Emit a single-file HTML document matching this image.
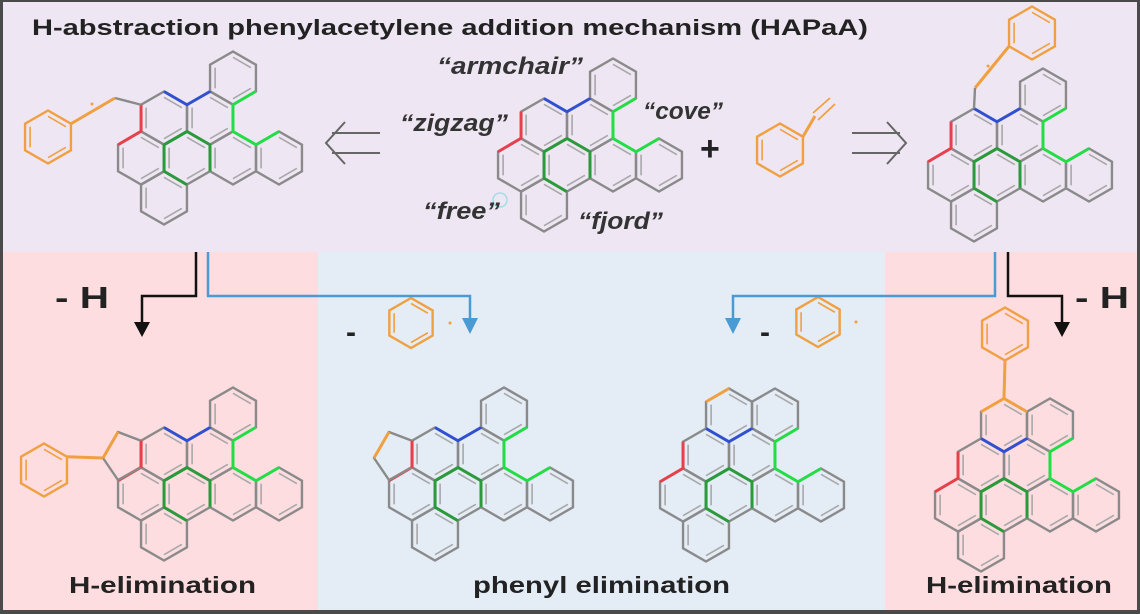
<!DOCTYPE html>
<html><head><meta charset="utf-8"><style>
html,body{margin:0;padding:0;background:#fff}
svg{display:block}
text{font-family:"Liberation Sans",sans-serif;fill:#222}
.q{font-style:italic;font-weight:bold;font-size:24px;fill:#333}
.b{font-weight:bold}
</style></head><body>
<svg id="s" width="1140" height="614" viewBox="0 0 1140 614" xmlns="http://www.w3.org/2000/svg">
<rect x="0" y="0" width="1140" height="614" fill="#4a4a4a"/>
<rect x="3" y="2" width="1134" height="250" fill="#efe6f3"/>
<rect x="3" y="252" width="315" height="358" fill="#fddde0"/>
<rect x="318" y="252" width="567" height="358" fill="#e4ecf6"/>
<rect x="885" y="252" width="252" height="358" fill="#fddde0"/>
<g id="mol"></g>
<text x="32" y="35" class="b" font-size="22" textLength="836" lengthAdjust="spacingAndGlyphs">H-abstraction phenylacetylene addition mechanism (HAPaA)</text>
<text x="437" y="74" class="q" textLength="146" lengthAdjust="spacingAndGlyphs">“armchair”</text>
<text x="400" y="131" class="q" textLength="108" lengthAdjust="spacingAndGlyphs">“zigzag”</text>
<text x="643" y="119" class="q" textLength="80" lengthAdjust="spacingAndGlyphs">“cove”</text>
<text x="423" y="219" class="q" textLength="77" lengthAdjust="spacingAndGlyphs">“free”</text>
<text x="578" y="229" class="q" textLength="85" lengthAdjust="spacingAndGlyphs">“fjord”</text>
<text x="700" y="160" class="b" font-size="34">+</text>
<g stroke="#666" stroke-width="2" fill="none">
<path d="M380 133 L332 133 M380 153 L332 153 M345 122 L326 143 L345 164"/>
<path d="M852 133 L900 133 M852 153 L900 153 M887 122 L906 143 L887 164"/>
</g>
<g fill="none" stroke-width="2.5">
<path d="M196 252 V296 H142 V325" stroke="#111"/>
<path d="M208 252 V296 H470 V322" stroke="#4a9ad4"/>
<path d="M995 252 V296 H733 V322" stroke="#4a9ad4"/>
<path d="M1008 252 V296 H1062 V325" stroke="#111"/>
</g>
<path d="M134 322 L150 322 L142 337Z" fill="#111"/>
<path d="M462 318 L478 318 L470 334Z" fill="#4a9ad4"/>
<path d="M725 318 L741 318 L733 334Z" fill="#4a9ad4"/>
<path d="M1054 322 L1070 322 L1062 337Z" fill="#111"/>
<text x="55" y="308" class="b" font-size="31" textLength="54" lengthAdjust="spacingAndGlyphs">- H</text>
<text x="1075" y="308" class="b" font-size="31" textLength="54" lengthAdjust="spacingAndGlyphs">- H</text>
<text x="346" y="342" class="b" font-size="30">-</text>
<text x="760" y="342" class="b" font-size="30">-</text>
<circle cx="450" cy="323" r="1.5" fill="#f0a040"/>
<circle cx="856" cy="322" r="1.5" fill="#f0a040"/>
<text x="69" y="593" class="b" font-size="23" textLength="187" lengthAdjust="spacingAndGlyphs">H-elimination</text>
<text x="473" y="593" class="b" font-size="23" textLength="257" lengthAdjust="spacingAndGlyphs">phenyl elimination</text>
<text x="926" y="593" class="b" font-size="23" textLength="186" lengthAdjust="spacingAndGlyphs">H-elimination</text>
</svg>
<script>
var NS="http://www.w3.org/2000/svg",g=document.getElementById("mol"),R=26.5;
function el(t,a){var e=document.createElementNS(NS,t);for(var k in a)e.setAttribute(k,a[k]);g.appendChild(e);return e;}
function V(cx,cy,k,r){r=r||R;var a=(-90+60*k)*Math.PI/180;return [cx+r*Math.cos(a),cy+r*Math.sin(a)];}
function hex(cx,cy,col,r){r=r||R;var p=[];for(var k=0;k<6;k++)p.push(V(cx,cy,k,r).join(","));
el("polygon",{points:p.join(" "),fill:"none",stroke:col||"#8a8a8a","stroke-width":2.4});
for(var k=0;k<6;k+=2){var a=V(cx,cy,k,r*0.78),b=V(cx,cy,k+1,r*0.78);
el("line",{x1:a[0],y1:a[1],x2:b[0],y2:b[1],stroke:col||"#a8a8a8","stroke-width":1.6});}}
function pl(pts,col,w){el("polyline",{points:pts.map(function(p){return p.join(",")}).join(" "),fill:"none",stroke:col,"stroke-width":w||3,"stroke-linejoin":"round"});}
var core=[[0,0],[-69,40],[-23,40],[-92,80],[-46,80],[0,80],[46,80],[-69,120]];
function mol(tx,ty,extra){
 var rc={};var names="TABCDEFG";
 core.forEach(function(c,i){rc[names[i]]=[tx+c[0],ty+c[1]];hex(tx+c[0],ty+c[1]);});
 if(extra)hex(tx-46,ty);
 function v(n,k){return V(rc[n][0],rc[n][1],k);}
 pl([v("A",0),v("A",1),v("B",0),v("T",4)],"#3050d0");
 pl([v("A",5),v("A",4),v("C",5)],"#e8404a");
 pl([v("D",5),v("D",0),v("D",1),v("E",4)],"#2a9a3a");
 pl([v("D",0),v("D",5),v("D",4),v("G",1)],"#2a9a3a");
 pl([v("T",2),v("B",1),v("E",0),v("F",5),v("F",0)],"#22dd44");
 return rc;
}
var OR="#f0a040";
mol(233,78);
hex(48,137,OR);
pl([V(48,137,1),[115,98]],OR);pl([[115,98],V(164,118,5)],"#8a8a8a",2.4);
el("circle",{cx:92,cy:104,r:1.5,fill:OR});
mol(613,85);
el("circle",{cx:500,cy:200,r:7,fill:"none",stroke:"#9ee0e8","stroke-width":1.5});
hex(780,150,OR);
pl([V(780,150,1),[815,116]],OR);
pl([[813,113],[830,98]],OR,1.8);pl([[818,120],[835,104]],OR,1.8);
mol(1043,95);
hex(1032,33,OR);
pl([V(1032,33,4),[975,88]],OR);pl([[975,88],V(974,135,0)],"#8a8a8a",2.4);
el("circle",{cx:988,cy:66,r:1.5,fill:OR});
mol(233,414);
var a5=V(164,454,5),a4=V(164,454,4);
pl([a5,[118,432],[103,458],[118,480],a4],"#8a8a8a",2.4);
pl([a5,a4],"#e8404a");
pl([[118,432],[103,458]],OR);
hex(44,470,OR);pl([V(44,470,1),[103,458]],OR);
mol(504,414);
a5=V(435,454,5);a4=V(435,454,4);
pl([a5,[389,432],[374,458],[389,480],a4],"#8a8a8a",2.4);
pl([a5,a4],"#e8404a");pl([[389,432],[374,458]],OR);
mol(775,415,true);
pl([V(729,415,5),V(729,415,0)],OR);
mol(1050,425,true);
pl([V(1004,425,5),V(1004,425,0),V(1004,425,1)],OR);
hex(1005,334,OR);pl([V(1004,425,0),V(1005,334,3)],OR);
hex(411,323,OR,25);hex(818,322,OR,25);
</script>
</body></html>
